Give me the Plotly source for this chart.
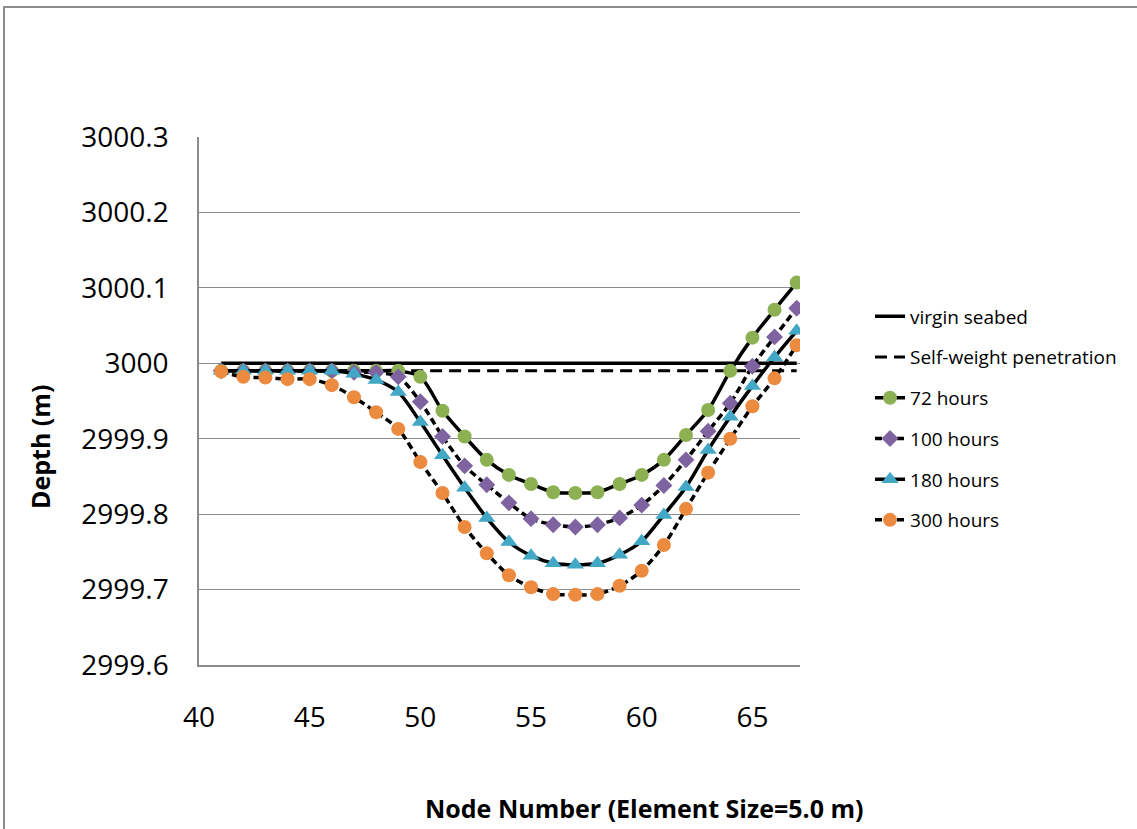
import plotly.graph_objects as go

nodes = list(range(41, 68))

virgin_seabed = [3000.0] * len(nodes)
self_weight = [2999.99] * len(nodes)

h72 = [2999.99, 2999.99, 2999.99, 2999.99, 2999.99, 2999.99, 2999.99, 2999.99,
       2999.99, 2999.982, 2999.937, 2999.903, 2999.872, 2999.852, 2999.840,
       2999.829, 2999.828, 2999.829, 2999.840, 2999.852, 2999.872, 2999.905,
       2999.938, 2999.990, 3000.034, 3000.071, 3000.107]
h100 = [2999.99, 2999.99, 2999.99, 2999.99, 2999.99, 2999.99, 2999.988, 2999.988,
        2999.982, 2999.949, 2999.903, 2999.864, 2999.839, 2999.815, 2999.794,
        2999.786, 2999.783, 2999.786, 2999.795, 2999.812, 2999.838, 2999.872,
        2999.910, 2999.947, 2999.996, 3000.035, 3000.073]
h180 = [2999.99, 2999.99, 2999.99, 2999.99, 2999.99, 2999.99, 2999.986, 2999.978,
        2999.962, 2999.922, 2999.878, 2999.835, 2999.795, 2999.763, 2999.745,
        2999.735, 2999.733, 2999.735, 2999.746, 2999.764, 2999.799, 2999.836,
        2999.885, 2999.929, 2999.970, 3000.008, 3000.043]
h300 = [2999.989, 2999.982, 2999.981, 2999.979, 2999.979, 2999.971, 2999.955,
        2999.935, 2999.913, 2999.869, 2999.828, 2999.783, 2999.748, 2999.719,
        2999.703, 2999.694, 2999.693, 2999.694, 2999.705, 2999.725, 2999.759,
        2999.807, 2999.855, 2999.900, 2999.943, 2999.980, 3000.024]

x_ticks = [40, 45, 50, 55, 60, 65]
y_ticks = [2999.6, 2999.7, 2999.8, 2999.9, 3000.0, 3000.1, 3000.2, 3000.3]
y_tick_text = ["2999.6", "2999.7", "2999.8", "2999.9", "3000", "3000.1", "3000.2", "3000.3"]

FONT = "Open Sans"

fig = go.Figure()

fig.add_trace(go.Scatter(x=nodes, y=virgin_seabed, mode="lines", name="virgin seabed",
                         line=dict(color="black", width=3.5), legendgroup="a"))
fig.add_trace(go.Scatter(x=nodes, y=self_weight, mode="lines", name="Self-weight penetration",
                         line=dict(color="black", width=3, dash="12px,7px"), legendgroup="b"))
series = [
    ("72 hours", h72, "solid", "circle", "#8DB152", 14),
    ("100 hours", h100, "7px,4px", "diamond", "#7F63A1", 13),
    ("180 hours", h180, "solid", "triangle-up", "#43A8C5", 15),
    ("300 hours", h300, "7px,4px", "circle", "#EC8A3F", 14),
]
for i, (name, ys, dash, sym, col, sz) in enumerate(series):
    fig.add_trace(go.Scatter(
        x=nodes, y=ys, mode="lines+markers", name=name,
        line=dict(color="black", width=3.5, dash=dash, shape="spline", smoothing=0.8),
        marker=dict(symbol=sym, color=col, size=sz, line=dict(width=0)),
        legendgroup="g%d" % i))

fig.update_layout(
    width=1137, height=829,
    margin=dict(l=199, r=337, t=137, b=164),
    paper_bgcolor="white", plot_bgcolor="white",
    font=dict(family=FONT, color="black"),
    showlegend=True,
    legend=dict(x=1.1165, y=0.696, xanchor="left", yanchor="top",
                font=dict(family=FONT, size=19, color="black"),
                tracegroupgap=13, bgcolor="rgba(0,0,0,0)"),
    xaxis=dict(range=[40, 67.15], tickvals=x_ticks, showgrid=False,
               showline=True, linecolor="#8C8C8C", linewidth=1.5,
               ticks="outside", ticklen=27, tickcolor="rgba(0,0,0,0)",
               tickfont=dict(family=FONT, size=28, color="black"), zeroline=False),
    yaxis=dict(range=[2999.6, 3000.3], tickvals=y_ticks, ticktext=y_tick_text,
               showgrid=True, gridcolor="#8C8C8C", gridwidth=1,
               showline=True, linecolor="#8C8C8C", linewidth=1.5,
               ticks="outside", ticklen=23, tickcolor="rgba(0,0,0,0)",
               tickfont=dict(family=FONT, size=28, color="black"), zeroline=False),
    shapes=[dict(type="rect", xref="paper", yref="paper",
                 x0=(4 - 199) / 601, x1=(1145 - 199) / 601,
                 y0=(665 - 840) / 528, y1=(665 - 7) / 528,
                 line=dict(color="#8C8C8C", width=2), layer="below")],
    annotations=[
        dict(text="<b>Depth (m)</b>", xref="paper", yref="paper",
             x=(40 - 199) / 601, y=(665 - 447) / 528, textangle=-90,
             showarrow=False, font=dict(family=FONT, size=25, color="black"),
             xanchor="center", yanchor="middle"),
        dict(text="<b>Node Number (Element Size=5.0 m)</b>", xref="paper", yref="paper",
             x=(644 - 199) / 601, y=(665 - 808) / 528,
             showarrow=False, font=dict(family=FONT, size=25, color="black"),
             xanchor="center", yanchor="middle"),
    ],
)

fig.write_html("out.html", config={"displayModeBar": False},
               post_script="document.body.style.margin='0px';")
